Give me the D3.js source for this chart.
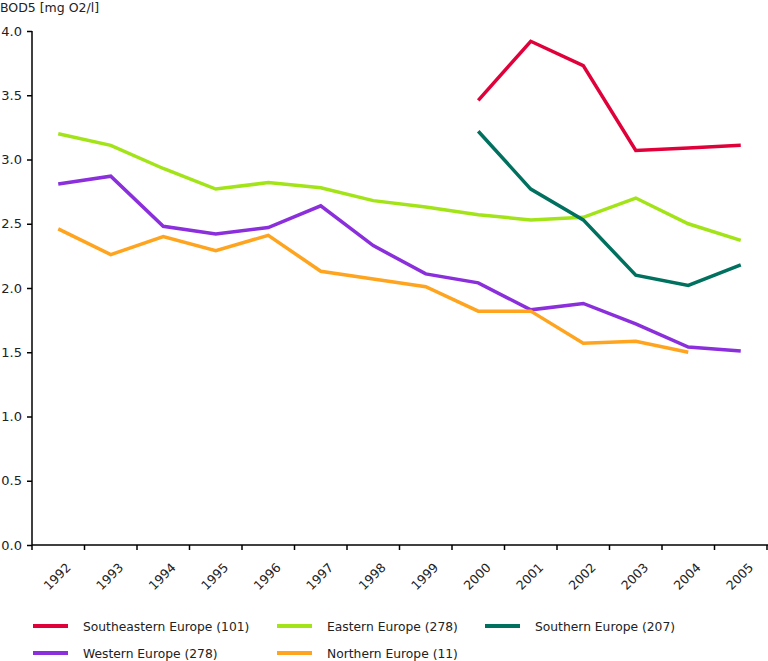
<!DOCTYPE html>
<html>
<head>
<meta charset="utf-8">
<script src="https://cdn.jsdelivr.net/npm/d3@7"></script>
<style>
  body { margin: 0; background: white; }
  text { font-family: "DejaVu Sans", Verdana, sans-serif; }
</style>
</head>
<body>
<script>
// data
const years = ["1992", "1993", "1994", "1995", "1996", "1997", "1998", "1999", "2000", "2001", "2002", "2003", "2004", "2005"];
const southeastern = [null, null, null, null, null, null, null, null, 3.46, 3.92, 3.73, 3.07, 3.09, 3.11];
const eastern = [3.20, 3.11, 2.93, 2.77, 2.82, 2.78, 2.68, 2.63, 2.57, 2.53, 2.55, 2.70, 2.50, 2.37];
const southern = [null, null, null, null, null, null, null, null, 3.22, 2.77, 2.53, 2.10, 2.02, 2.18];
const western = [2.81, 2.87, 2.48, 2.42, 2.47, 2.64, 2.33, 2.11, 2.04, 1.83, 1.88, 1.72, 1.54, 1.51];
const northern = [2.46, 2.26, 2.40, 2.29, 2.41, 2.13, 2.07, 2.01, 1.82, 1.82, 1.57, 1.585, 1.50, null];
const yTicks = [0, 0.5, 1.0, 1.5, 2.0, 2.5, 3.0, 3.5, 4.0];

const series = [
    { name: "Southeastern Europe (101)", values: southeastern, color: "#e0003a" },
    { name: "Eastern Europe (278)", values: eastern, color: "#a2e417" },
    { name: "Southern Europe (207)", values: southern, color: "#00705f" },
    { name: "Western Europe (278)", values: western, color: "#8a2fdb" },
    { name: "Northern Europe (11)", values: northern, color: "#ffa41e" }
];

let width = 768, height = 661;
let mLeft = 32, mRight = 767, mTop = 31, mBottom = 545;

let svg = d3.select("body").append("svg")
    .attr("width", width)
    .attr("height", height);

let x = d3.scaleBand().domain(years).range([mLeft, mRight]);
let y = d3.scaleLinear().domain([0, 4]).range([mBottom, mTop]);

// axis title
svg.append("text")
    .attr("x", 0).attr("y", 12)
    .attr("font-size", "12.5px")
    .attr("fill", "#222")
    .text("BOD5 [mg O2/l]");

// y axis
let yAxis = svg.append("g")
    .attr("transform", `translate(${mLeft},0)`)
    .call(d3.axisLeft(y).tickValues(yTicks).tickFormat(d3.format(".1f")).tickSize(5).tickPadding(5));
yAxis.select(".domain").attr("stroke", "#000").attr("stroke-width", 1.5).attr("d", `M0,${mTop}V${mBottom}`);
yAxis.selectAll(".tick line").attr("stroke", "#000").attr("stroke-width", 1.5);
yAxis.selectAll("text").attr("font-size", "13px").attr("font-family", "DejaVu Sans, Verdana, sans-serif").attr("fill", "#222");

// x axis, ticks at band edges
let xg = svg.append("g");
xg.append("line")
    .attr("x1", mLeft).attr("x2", width)
    .attr("y1", mBottom).attr("y2", mBottom)
    .attr("stroke", "#000").attr("stroke-width", 1.5);
let edges = years.map(d => x(d)).concat([x(years[years.length - 1]) + x.bandwidth()]);
xg.selectAll(".xt").data(edges).enter().append("line")
    .attr("x1", d => d).attr("x2", d => d)
    .attr("y1", mBottom).attr("y2", mBottom + 5)
    .attr("stroke", "#000").attr("stroke-width", 1.5);
xg.selectAll(".xl").data(years).enter().append("text")
    .attr("transform", d => `translate(${x(d) + x.bandwidth() / 2 + 7},${mBottom + 17}) rotate(-45)`)
    .attr("text-anchor", "end")
    .attr("dy", "0.71em")
    .attr("font-size", "12.5px")
    .attr("fill", "#222")
    .text(d => d);

// lines
let line = d3.line()
    .defined(d => d.v != null)
    .x(d => x(d.year) + x.bandwidth() / 2)
    .y(d => y(d.v));

series.forEach(s => {
    svg.append("path")
        .datum(years.map((yr, i) => ({ year: yr, v: s.values[i] })))
        .attr("fill", "none")
        .attr("stroke", s.color)
        .attr("stroke-width", 3.5)
        .attr("d", line);
});

// legend
let legendPos = [[33, 626], [277, 626], [485, 626], [33, 653], [277, 653]];
series.forEach((s, i) => {
    let [lx, ly] = legendPos[i];
    svg.append("line")
        .attr("x1", lx).attr("x2", lx + 35)
        .attr("y1", ly).attr("y2", ly)
        .attr("stroke", s.color).attr("stroke-width", 4);
    svg.append("text")
        .attr("x", lx + 50).attr("y", ly + 4.5)
        .attr("font-size", "12.3px")
        .attr("fill", "#222")
        .text(s.name);
});
</script>
</body>
</html>
